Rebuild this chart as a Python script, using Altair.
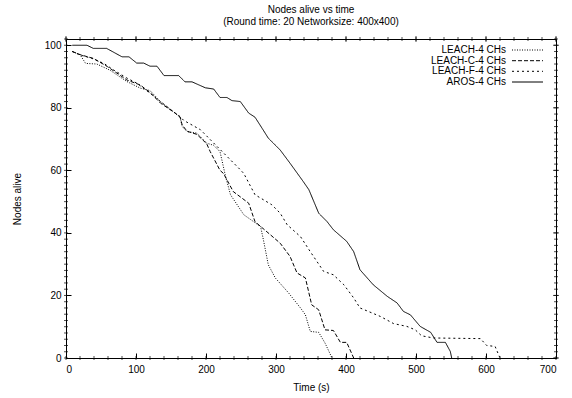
import altair as alt
import pandas as pd

# ---- data ----
series_names = ["LEACH-4 CHs", "LEACH-C-4 CHs", "LEACH-F-4 CHs", "AROS-4 CHs"]

leach_t = [9, 20, 28, 44, 63, 87, 106, 120, 135, 156, 163, 166, 173, 187, 201, 211, 220, 228, 235, 254, 268, 278, 282, 289, 299, 318, 335, 342, 349, 361, 370, 380]
leach_n = [98, 97, 94.2, 94, 92, 88.4, 86.3, 85.5, 82, 78.3, 77, 74, 72.4, 71.9, 68.7, 68, 66, 58, 52.2, 45.8, 43.6, 42, 37.8, 29.8, 25.6, 20.8, 16, 13.8, 8.5, 8.2, 4.8, 0]

leachc_t = [9, 20, 39, 59, 87, 106, 121, 135, 156, 163, 166, 173, 187, 201, 206, 220, 225, 239, 261, 270, 292, 306, 320, 330, 342, 351, 361, 370, 382, 392, 401, 411]
leachc_n = [98, 97, 95.8, 93.2, 88.9, 87.3, 84.7, 81.5, 78.3, 77, 74.5, 72.5, 71.5, 68.5, 66, 60, 59, 53.2, 49.5, 43.6, 39.4, 36.7, 32.5, 27.2, 25.6, 17, 15.4, 9, 8.8, 5, 5, 0]

leachf_t = [9, 20, 37, 54, 68, 87, 101, 120, 132, 156, 163, 168, 192, 216, 249, 254, 270, 294, 306, 316, 335, 349, 368, 382, 397, 411, 420, 449, 468, 487, 499, 508, 525, 592, 601, 613, 620]
leachf_n = [98, 96.9, 95.8, 94.2, 92.1, 89.5, 87.9, 84.7, 82.5, 78.3, 77.2, 76, 73, 67.6, 60.2, 59, 52.2, 49, 46.3, 42.6, 38.8, 34, 27.7, 26.6, 23.4, 19.2, 16, 13.3, 11, 10.1, 9, 7.1, 6.4, 6.2, 4, 3.7, 0]

aros_t = [9, 30, 39, 58, 80, 90, 101, 111, 120, 130, 140, 161, 170, 180, 199, 211, 220, 230, 237, 249, 261, 270, 280, 289, 306, 320, 339, 347, 361, 373, 382, 401, 411, 420, 439, 459, 473, 482, 492, 506, 521, 530, 542, 549, 551]
aros_n = [100, 100, 99, 99, 96.3, 96.3, 94.3, 94.3, 93.3, 93.3, 90.3, 90.3, 88.3, 88.3, 86.4, 86, 83.3, 83.3, 82.3, 82, 78.3, 77, 73.5, 70.3, 66.5, 62.3, 56.4, 53.8, 46.3, 43.6, 41, 37.3, 34, 28.2, 23.4, 19.7, 17.6, 14.9, 13.8, 10.1, 8.2, 5, 5, 2.1, 0]

x_major = [0, 100, 200, 300, 400, 500, 600, 700]
x_minor = list(range(0, 701, 20))
y_major = [0, 20, 40, 60, 80, 100]
y_minor = list(range(0, 103, 2))

title_lines = ["Nodes alive vs time", "(Round time: 20 Networksize: 400x400)"]

# ---- layout constants ----
W, H = 490, 319
XMAX, YMAX = 700, 102
FONT = "Liberation Sans"
FS = 10
MAJ, MIN = 5, 2.5

rows = []
for name, ts, ns in zip(series_names,
                        [leach_t, leachc_t, leachf_t, aros_t],
                        [leach_n, leachc_n, leachf_n, aros_n]):
    for i, (tv, nv) in enumerate(zip(ts, ns)):
        rows.append({"series": name, "t": tv, "n": nv, "order": i})
df = pd.DataFrame(rows)

legend_df = pd.DataFrame({"series": series_names, "row": list(range(4))})

xs = alt.Scale(domain=[0, XMAX], nice=False, zero=False)
ys = alt.Scale(domain=[0, YMAX], nice=False, zero=False)
dash = alt.Scale(domain=series_names,
                 range=[[1, 1.5], [4, 2], [2, 3], [1, 0]])

inward = alt.ExprRef(expr=f"-{MAJ}")

lines = alt.Chart(df).mark_line(color="black", strokeWidth=1).encode(
    x=alt.X("t:Q", scale=xs,
            axis=alt.Axis(values=x_major, ticks=True, tickSize=inward,
                          tickColor="black", domain=False, grid=False,
                          labelFont=FONT, labelFontSize=FS, labelColor="black",
                          labelPadding=6 + MAJ, title="Time (s)", titleFont=FONT,
                          titleFontSize=FS, titleFontWeight="normal",
                          titleColor="black", titlePadding=8)),
    y=alt.Y("n:Q", scale=ys,
            axis=alt.Axis(values=y_major, ticks=True, tickSize=inward,
                          tickColor="black", domain=False, grid=False,
                          labelFont=FONT, labelFontSize=FS, labelColor="black",
                          labelPadding=5 + MAJ, title="Nodes alive",
                          titleFont=FONT, titleFontSize=FS,
                          titleFontWeight="normal", titleColor="black",
                          titlePadding=22)),
    strokeDash=alt.StrokeDash("series:N", scale=dash, legend=None),
    detail="series:N",
    order="order:Q",
)


def xtick(vals, ypos, size):
    return alt.Chart(pd.DataFrame({"v": vals})).mark_tick(
        color="black", orient="vertical", size=size, thickness=1
    ).encode(x=alt.X("v:Q", scale=xs), y=alt.value(ypos))


def ytick(vals, xpos, size):
    return alt.Chart(pd.DataFrame({"v": vals})).mark_tick(
        color="black", orient="horizontal", size=size, thickness=1
    ).encode(y=alt.Y("v:Q", scale=ys), x=alt.value(xpos))


tick_layers = [
    xtick(x_minor, H, 4), xtick(x_minor, 0, 4), xtick(x_major, 0, 6),
    ytick(y_minor, 0, 4), ytick(y_minor, W, 4), ytick(y_major, W, 6),
]

leg_y = [11, 21.7, 32.3, 43]
leg_layers = []
for name, yp in zip(series_names, leg_y):
    one = legend_df[legend_df["series"] == name]
    leg_layers.append(alt.Chart(one).mark_text(
        align="right", baseline="middle", font=FONT, fontSize=FS, color="black"
    ).encode(x=alt.value(440), y=alt.value(yp), text="series:N"))
    leg_layers.append(alt.Chart(one).mark_rule(color="black", strokeWidth=1).encode(
        x=alt.value(446), x2=alt.value(477), y=alt.value(yp),
        strokeDash=alt.StrokeDash("series:N", scale=dash, legend=None),
    ))

chart = alt.layer(lines, *tick_layers, *leg_layers).properties(
    width=W, height=H,
    title=alt.TitleParams(text=title_lines, font=FONT, fontSize=FS,
                          fontWeight="normal", color="black", anchor="middle",
                          offset=9, lineHeight=12),
    autosize=alt.AutoSizeParams(type="none"),
    padding={"left": 66, "top": 39, "right": 16, "bottom": 40},
).configure_view(
    stroke="black", strokeWidth=1
)

chart.save("out.html", embed_options={"renderer": "svg", "actions": False})
